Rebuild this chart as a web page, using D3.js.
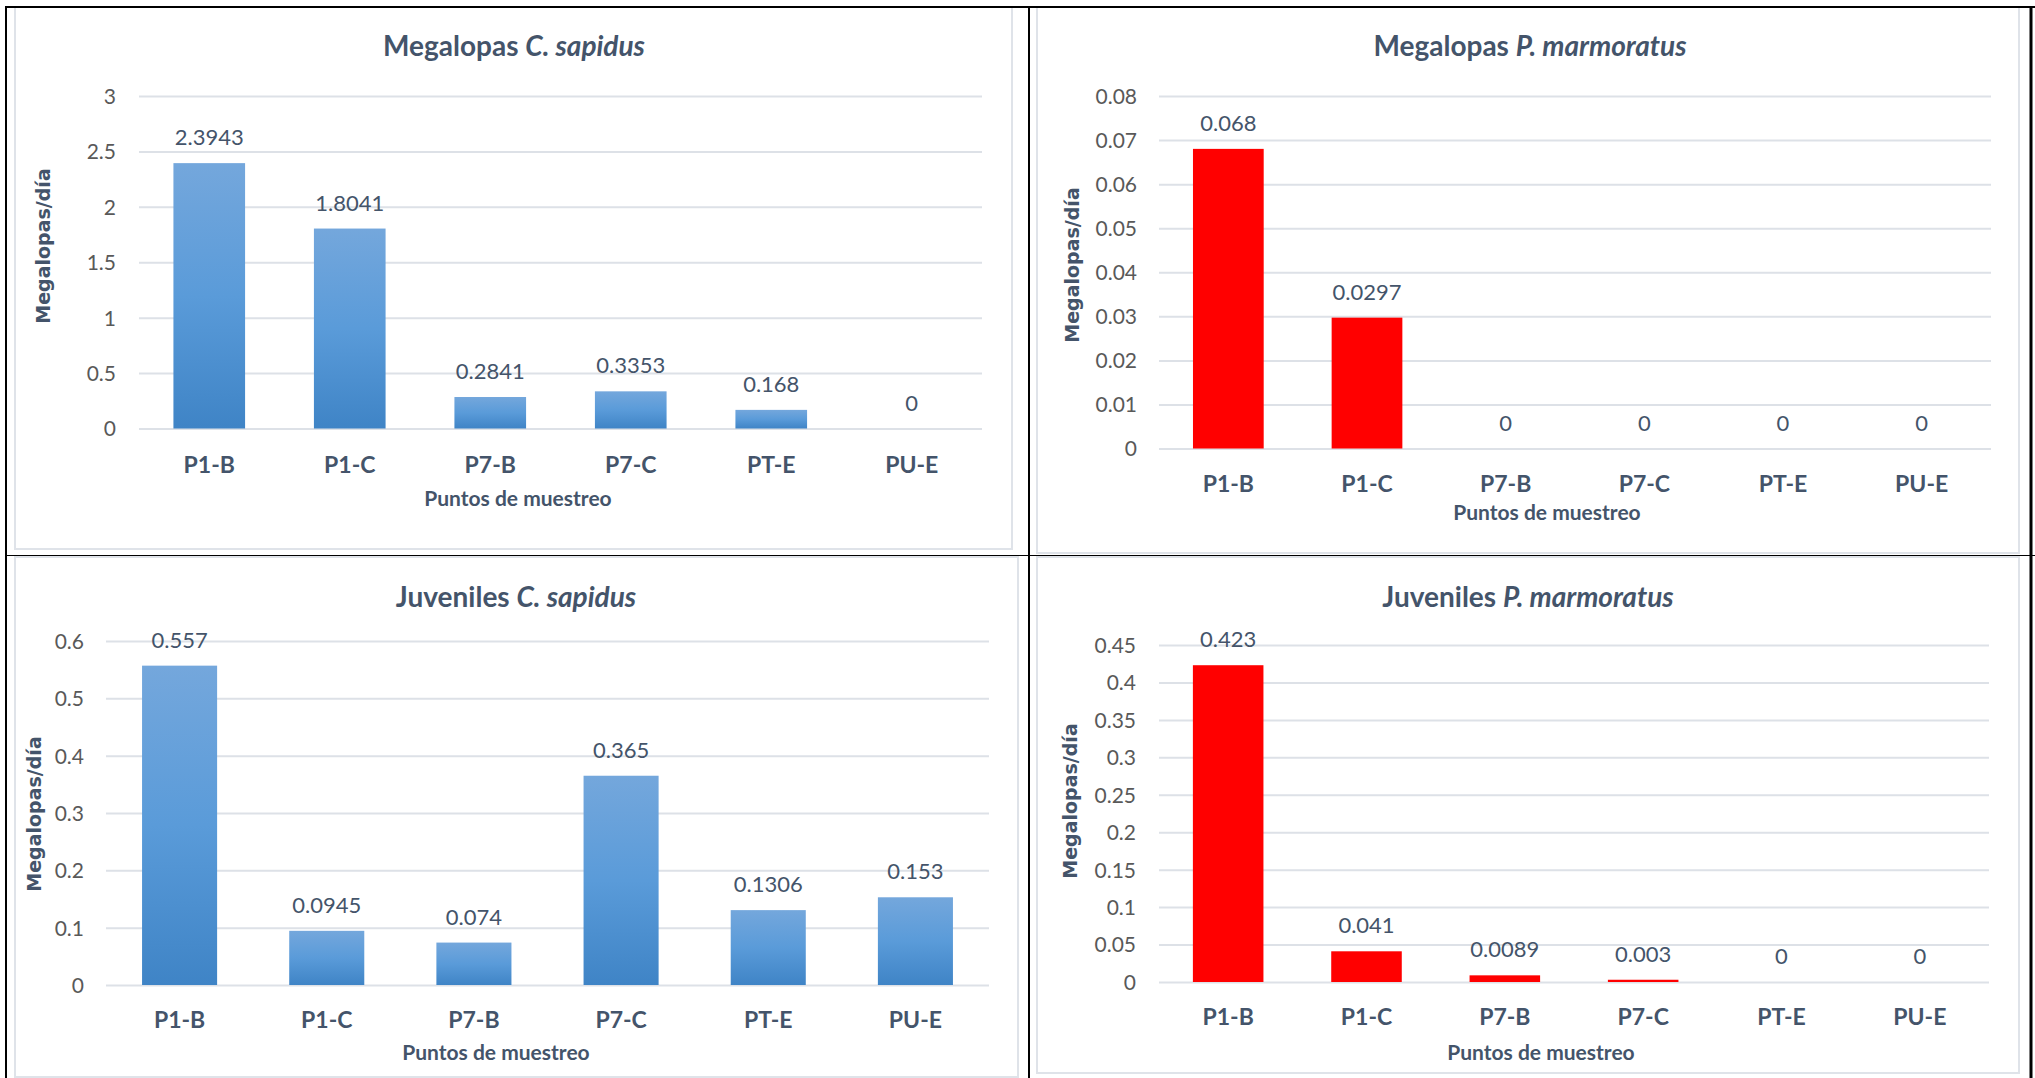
<!DOCTYPE html>
<html>
<head>
<meta charset="utf-8">
<script src="https://cdn.jsdelivr.net/npm/d3@7"></script>
<style>
  html, body { margin: 0; padding: 0; background: #ffffff; }
  svg { display: block; }
</style>
</head>
<body>
<svg id="chart" width="2035" height="1078"></svg>
<script>
// Sampling points shared by all four panels
const categories = ["P1-B", "P1-C", "P7-B", "P7-C", "PT-E", "PU-E"];

// Daily catch per sampling point
const megalopasSapidus   = [2.3943, 1.8041, 0.2841, 0.3353, 0.168, 0];
const megalopasMarmoratus = [0.068, 0.0297, 0, 0, 0, 0];
const juvenilesSapidus   = [0.557, 0.0945, 0.074, 0.365, 0.1306, 0.153];
const juvenilesMarmoratus = [0.423, 0.041, 0.0089, 0.003, 0, 0];

// Value axis ticks for each panel
const ticksMegSapidus = [0, 0.5, 1, 1.5, 2, 2.5, 3];
const ticksMegMarmoratus = [0, 0.01, 0.02, 0.03, 0.04, 0.05, 0.06, 0.07, 0.08];
const ticksJuvSapidus = [0, 0.1, 0.2, 0.3, 0.4, 0.5, 0.6];
const ticksJuvMarmoratus = [0, 0.05, 0.1, 0.15, 0.2, 0.25, 0.3, 0.35, 0.4, 0.45];

// Titles: plain part + italic species name
const titleMegSapidus = ["Megalopas ", "C. sapidus"];
const titleMegMarmoratus = ["Megalopas ", "P. marmoratus"];
const titleJuvSapidus = ["Juveniles ", "C. sapidus"];
const titleJuvMarmoratus = ["Juveniles ", "P. marmoratus"];

const xAxisTitle = "Puntos de muestreo";
const yAxisTitle = "Megalopas/día";

const TEXT = "#44546A";
const TICK = "#595959";
const GRID = "#dde1e7";
const FRAME = "#dfe3e9";
const SANS = "Lato, 'Open Sans', sans-serif";

const panels = [
  { values: megalopasSapidus, ticks: ticksMegSapidus, title: titleMegSapidus, fill: "url(#blueBar)",
    frame: [15, 7, 1012, 549], plot: [139, 96, 982, 428.5],
    titleXY: [514, 46], xLabelY: 465, xTitleXY: [518, 499], yTitleXY: [43, 246], tickRight: 116 },
  { values: megalopasMarmoratus, ticks: ticksMegMarmoratus, title: titleMegMarmoratus, fill: "#ff0000",
    frame: [1037, 7, 2019, 553], plot: [1159, 96, 1991, 448.5],
    titleXY: [1530, 46], xLabelY: 484, xTitleXY: [1547, 513], yTitleXY: [1072, 265], tickRight: 1137 },
  { values: juvenilesSapidus, ticks: ticksJuvSapidus, title: titleJuvSapidus, fill: "url(#blueBar)",
    frame: [15, 557, 1018, 1077], plot: [106, 641, 989, 985],
    titleXY: [516, 597], xLabelY: 1020, xTitleXY: [496, 1053], yTitleXY: [34, 814], tickRight: 84 },
  { values: juvenilesMarmoratus, ticks: ticksJuvMarmoratus, title: titleJuvMarmoratus, fill: "#ff0000",
    frame: [1037, 557, 2019, 1073], plot: [1159, 645, 1989, 982],
    titleXY: [1528, 597], xLabelY: 1017, xTitleXY: [1541, 1053], yTitleXY: [1070, 801], tickRight: 1136 }
];

const svg = d3.select("#chart");

// Vertical gradient used by the blue bars (lighter at the top)
const defs = svg.append("defs");
const grad = defs.append("linearGradient").attr("id", "blueBar")
  .attr("x1", 0).attr("y1", 0).attr("x2", 0).attr("y2", 1);
grad.append("stop").attr("offset", "0%").attr("stop-color", "#74a7dc");
grad.append("stop").attr("offset", "50%").attr("stop-color", "#5a9bd9");
grad.append("stop").attr("offset", "100%").attr("stop-color", "#3f84c6");

const fmt = v => String(+v.toFixed(4));

panels.forEach(p => {
  const g = svg.append("g");
  const [fx0, fy0, fx1, fy1] = p.frame;
  const [px0, py0, px1, py1] = p.plot;

  // chart area frame
  g.append("rect")
    .attr("x", fx0).attr("y", fy0)
    .attr("width", fx1 - fx0).attr("height", fy1 - fy0)
    .attr("fill", "#ffffff").attr("stroke", FRAME).attr("stroke-width", 2);

  const x = d3.scaleBand().domain(categories).range([px0, px1])
    .paddingInner(0.49).paddingOuter(0.245);
  const y = d3.scaleLinear().domain([0, d3.max(p.ticks)]).range([py1, py0]);

  // gridlines and value ticks
  const yAxis = g.append("g")
    .attr("transform", `translate(${px0},0)`)
    .call(d3.axisLeft(y).tickValues(p.ticks).tickSize(-(px1 - px0)).tickFormat(fmt));
  yAxis.select(".domain").remove();
  yAxis.selectAll(".tick line").attr("stroke", GRID).attr("stroke-width", 2);
  yAxis.selectAll(".tick text")
    .attr("x", p.tickRight - px0)
    .attr("dy", "0.35em")
    .attr("fill", TICK)
    .style("font-family", SANS)
    .style("font-size", "21px");

  // bars
  g.selectAll(".bar").data(p.values).enter().append("rect")
    .attr("x", (d, i) => x(categories[i]))
    .attr("y", d => y(d))
    .attr("width", x.bandwidth())
    .attr("height", d => Math.max(0, y(0) - y(d)))
    .attr("fill", p.fill);

  // value labels
  g.selectAll(".val").data(p.values).enter().append("text")
    .attr("x", (d, i) => x(categories[i]) + x.bandwidth() / 2)
    .attr("y", d => y(d) - 18)
    .attr("text-anchor", "middle")
    .attr("fill", TEXT)
    .style("font-family", SANS)
    .style("font-size", "22px")
    .text(d => fmt(d));

  // category labels
  const xAxis = g.append("g")
    .attr("transform", `translate(0,${p.xLabelY})`)
    .call(d3.axisBottom(x).tickSize(0));
  xAxis.select(".domain").remove();
  xAxis.selectAll(".tick text")
    .attr("y", 0).attr("dy", "0.35em")
    .attr("fill", TEXT)
    .style("font-family", SANS)
    .style("font-weight", "bold")
    .style("font-size", "23px");

  // chart title
  const t = g.append("text")
    .attr("x", p.titleXY[0]).attr("y", p.titleXY[1])
    .attr("dy", "0.35em")
    .attr("text-anchor", "middle")
    .attr("fill", TEXT)
    .style("font-family", SANS)
    .style("font-weight", "bold")
    .style("font-size", "28px");
  t.append("tspan").text(p.title[0]);
  t.append("tspan").style("font-style", "italic").text(p.title[1]);

  // axis titles
  g.append("text")
    .attr("x", p.xTitleXY[0]).attr("y", p.xTitleXY[1])
    .attr("dy", "0.35em")
    .attr("text-anchor", "middle")
    .attr("fill", TEXT)
    .style("font-family", SANS)
    .style("font-weight", "bold")
    .style("font-size", "21px")
    .text(xAxisTitle);

  g.append("text")
    .attr("transform", `translate(${p.yTitleXY[0]},${p.yTitleXY[1]}) rotate(-90)`)
    .attr("dy", "0.35em")
    .attr("text-anchor", "middle")
    .attr("fill", TEXT)
    .style("font-family", "'DejaVu Sans'")
    .style("font-weight", "bold")
    .style("font-size", "19px")
    .text(yAxisTitle);
});

// black table rules separating the four panels
const rules = svg.append("g").attr("stroke", "#000000");
rules.append("line").attr("x1", 5).attr("y1", 7).attr("x2", 2035).attr("y2", 7).attr("stroke-width", 2);
rules.append("line").attr("x1", 6).attr("y1", 6).attr("x2", 6).attr("y2", 1078).attr("stroke-width", 2);
rules.append("line").attr("x1", 1029).attr("y1", 6).attr("x2", 1029).attr("y2", 1078).attr("stroke-width", 2);
rules.append("line").attr("x1", 2031).attr("y1", 6).attr("x2", 2031).attr("y2", 1078).attr("stroke-width", 3);
rules.append("line").attr("x1", 5).attr("y1", 555.5).attr("x2", 2035).attr("y2", 555.5).attr("stroke-width", 1);
</script>
</body>
</html>
